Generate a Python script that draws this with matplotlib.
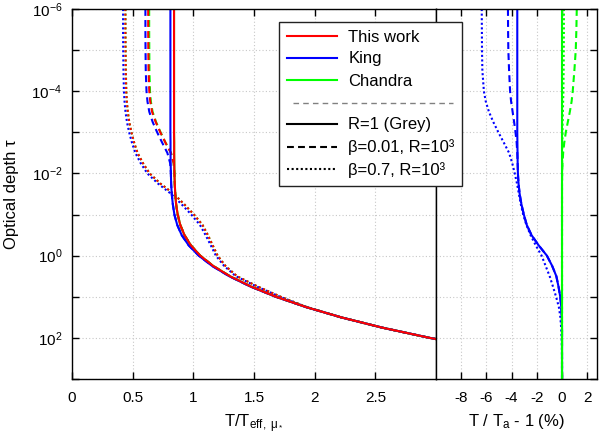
import numpy as np
import matplotlib
matplotlib.use("Agg")
import matplotlib.pyplot as plt
from matplotlib.lines import Line2D

plt.rcParams.update({
    "font.family": "Liberation Sans",
    "mathtext.fontset": "custom",
    "mathtext.rm": "Liberation Sans",
    "mathtext.it": "Liberation Sans:italic",
    "mathtext.bf": "Liberation Sans:bold",
    "mathtext.sf": "Liberation Sans",
    "axes.unicode_minus": False,
})

# optical depth grid (log10 tau)
log_tau = [-6, -5.5, -5, -4.5, -4, -3.75, -3.5, -3.25, -3, -2.75, -2.5, -2.25,
           -2, -1.75, -1.5, -1.25, -1, -0.75, -0.5, -0.25, 0, 0.25, 0.5, 0.75,
           1, 1.25, 1.5, 1.75, 2, 2.25, 2.5, 3]

# T / T_eff,mu*  -- R=1 (grey)
work_grey = [0.841, 0.841, 0.841, 0.841, 0.841, 0.841, 0.841, 0.841, 0.841, 0.842, 0.842, 0.843,
             0.844, 0.847, 0.851, 0.858, 0.871, 0.892, 0.927, 0.980, 1.057, 1.164, 1.302, 1.474,
             1.682, 1.929, 2.218, 2.556, 2.948, 3.401, 3.927, 5.23]
king_grey = [0.811, 0.811, 0.811, 0.811, 0.811, 0.811, 0.811, 0.811, 0.811, 0.812, 0.812, 0.813,
             0.815, 0.817, 0.822, 0.831, 0.844, 0.867, 0.904, 0.962, 1.045, 1.155, 1.296, 1.470,
             1.680, 1.928, 2.218, 2.556, 2.948, 3.401, 3.927, 5.23]
chan_grey = [0.841, 0.841, 0.841, 0.841, 0.841, 0.841, 0.841, 0.841, 0.841, 0.842, 0.842, 0.843,
             0.844, 0.847, 0.851, 0.858, 0.871, 0.892, 0.927, 0.980, 1.057, 1.164, 1.302, 1.474,
             1.682, 1.929, 2.218, 2.556, 2.948, 3.401, 3.927, 5.23]

# beta=0.01, R=1e3
work_b001 = [0.628, 0.628, 0.629, 0.631, 0.637, 0.645, 0.660, 0.690, 0.728, 0.770, 0.815, 0.838,
             0.844, 0.847, 0.851, 0.858, 0.871, 0.892, 0.927, 0.980, 1.057, 1.164, 1.302, 1.474,
             1.682, 1.929, 2.218, 2.556, 2.948, 3.401, 3.927, 5.23]
king_b001 = [0.605, 0.605, 0.606, 0.608, 0.614, 0.622, 0.637, 0.665, 0.702, 0.743, 0.786, 0.809,
             0.815, 0.817, 0.822, 0.831, 0.844, 0.867, 0.904, 0.962, 1.045, 1.155, 1.296, 1.470,
             1.680, 1.928, 2.218, 2.556, 2.948, 3.401, 3.927, 5.23]
chan_b001 = [0.636, 0.636, 0.637, 0.638, 0.643, 0.650, 0.664, 0.693, 0.730, 0.771, 0.816, 0.838,
             0.844, 0.847, 0.851, 0.858, 0.871, 0.892, 0.927, 0.980, 1.057, 1.164, 1.302, 1.474,
             1.682, 1.929, 2.218, 2.556, 2.948, 3.401, 3.927, 5.23]

# beta=0.7, R=1e3
work_b07 = [0.440, 0.440, 0.441, 0.443, 0.447, 0.452, 0.460, 0.472, 0.490, 0.512, 0.540, 0.585,
            0.640, 0.730, 0.840, 0.925, 1.005, 1.075, 1.120, 1.160, 1.200, 1.265, 1.360, 1.530,
            1.720, 1.935, 2.218, 2.556, 2.948, 3.401, 3.927, 5.23]
king_b07 = [0.421, 0.421, 0.422, 0.424, 0.428, 0.433, 0.441, 0.453, 0.471, 0.494, 0.522, 0.566,
            0.621, 0.710, 0.818, 0.903, 0.983, 1.054, 1.101, 1.144, 1.186, 1.254, 1.350, 1.522,
            1.715, 1.931, 2.216, 2.556, 2.948, 3.401, 3.927, 5.23]
chan_b07 = [0.441, 0.441, 0.442, 0.444, 0.448, 0.452, 0.460, 0.472, 0.490, 0.512, 0.540, 0.585,
            0.640, 0.730, 0.840, 0.925, 1.005, 1.075, 1.120, 1.160, 1.200, 1.265, 1.360, 1.530,
            1.720, 1.935, 2.218, 2.556, 2.948, 3.401, 3.927, 5.23]

# T / T_a - 1 (%)
king_grey_dev = [-3.55, -3.55, -3.55, -3.55, -3.55, -3.55, -3.55, -3.55, -3.55, -3.54, -3.53, -3.52,
                 -3.50, -3.45, -3.36, -3.22, -3.03, -2.80, -2.42, -1.85, -1.20, -0.78, -0.45, -0.28,
                 -0.14, -0.06, -0.02, 0.0, 0.0, 0.0, 0.0, 0.0]
king_b001_dev = [-4.29, -4.28, -4.26, -4.20, -4.12, -4.04, -3.92, -3.80, -3.69, -3.60, -3.55, -3.52,
                 -3.50, -3.45, -3.36, -3.22, -3.03, -2.80, -2.42, -1.85, -1.20, -0.78, -0.45, -0.28,
                 -0.14, -0.06, -0.02, 0.0, 0.0, 0.0, 0.0, 0.0]
king_b07_dev = [-6.37, -6.36, -6.35, -6.32, -6.20, -6.05, -5.80, -5.45, -5.05, -4.62, -4.20, -3.95,
                -3.75, -3.57, -3.42, -3.27, -3.08, -2.83, -2.50, -2.08, -1.62, -1.30, -0.98, -0.72,
                -0.47, -0.25, -0.13, -0.07, -0.03, -0.01, 0.0, 0.0]
chan_grey_dev = [0.0, 0.0, 0.0, 0.0, 0.0, 0.0, 0.0, 0.0, 0.0, 0.0, 0.0, 0.0,
                 0.0, 0.0, 0.0, 0.0, 0.0, 0.0, 0.0, 0.0, 0.0, 0.0, 0.0, 0.0,
                 0.0, 0.0, 0.0, 0.0, 0.0, 0.0, 0.0, 0.0]
chan_b001_dev = [1.17, 1.14, 1.09, 0.98, 0.85, 0.76, 0.62, 0.46, 0.30, 0.18, 0.09, 0.04,
                 0.01, 0.0, 0.0, 0.0, 0.0, 0.0, 0.0, 0.0, 0.0, 0.0, 0.0, 0.0,
                 0.0, 0.0, 0.0, 0.0, 0.0, 0.0, 0.0, 0.0]
chan_b07_dev = [0.15, 0.15, 0.14, 0.13, 0.11, 0.09, 0.07, 0.05, 0.04, 0.03, 0.02, 0.01,
                0.005, 0.0, 0.0, 0.0, 0.0, 0.0, 0.0, 0.0, 0.0, 0.0, 0.0, 0.0,
                0.0, 0.0, 0.0, 0.0, 0.0, 0.0, 0.0, 0.0]

y_decades = [-6, -5, -4, -3, -2, -1, 0, 1, 2, 3]
left_ticks = [0, 0.5, 1, 1.5, 2, 2.5]
left_ticklabels = ["0", "0.5", "1", "1.5", "2", "2.5"]
right_ticks = [-8, -6, -4, -2, 0, 2]

tau = 10.0 ** np.array(log_tau)

RED, BLUE, GREEN = "#ff0000", "#0000ff", "#00ff00"
SOLID = "-"
DASHED = (0, (3.3, 2.0))
DOTTED = (0, (1.0, 1.2))
LW = 1.5

fig = plt.figure(figsize=(5.99, 4.43), dpi=100)
ax1 = fig.add_axes([72 / 599, 64 / 443, 364 / 599, 370 / 443])
ax2 = fig.add_axes([436 / 599, 64 / 443, 161.3 / 599, 370 / 443], sharey=ax1)

# left panel: temperature profiles
for ls, g, b, r in [(DOTTED, chan_b07, king_b07, work_b07),
                    (DASHED, chan_b001, king_b001, work_b001),
                    (SOLID, chan_grey, king_grey, work_grey)]:
    ax1.plot(g, tau, color=GREEN, ls=ls, lw=LW)
    ax1.plot(b, tau, color=BLUE, ls=ls, lw=LW)
    ax1.plot(r, tau, color=RED, ls=ls, lw=LW)

# right panel: relative deviation
for ls, b in [(DOTTED, king_b07_dev), (DASHED, king_b001_dev), (SOLID, king_grey_dev)]:
    ax2.plot(b, tau, color=BLUE, ls=ls, lw=LW)
for ls, g in [(DOTTED, chan_b07_dev), (DASHED, chan_b001_dev), (SOLID, chan_grey_dev)]:
    ax2.plot(g, tau, color=GREEN, ls=ls, lw=LW)

ax1.set_yscale("log")
ax1.set_ylim(1e3, 1e-6)
ax1.set_yticks([10.0 ** k for k in y_decades])
ax1.set_yticklabels([r"$\mathrm{10^{%d}}$" % k if k % 2 == 0 and k < 3 else "" for k in y_decades])
ax1.minorticks_off()
ax1.set_xlim(0, 3)
ax1.set_xticks(left_ticks)
ax1.set_xticklabels(left_ticklabels)

ax2.set_xlim(-10, 2.8)
ax2.set_xticks(right_ticks)
ax2.set_xticklabels([str(t) for t in right_ticks])
ax2.minorticks_off()

grid_kw = dict(color="#c8c8c8", ls=(0, (1, 2)), lw=0.8)
for ax in (ax1, ax2):
    ax.grid(True, **grid_kw)
    ax.set_axisbelow(True)
    for sp in ax.spines.values():
        sp.set_linewidth(1.0)
        sp.set_zorder(5)

ax1.tick_params(axis="both", which="both", direction="in", top=True, right=False,
                length=5, width=1, labelsize=11, pad=7)
ax1.tick_params(axis="x", pad=9)
ax2.tick_params(axis="both", which="both", direction="in", top=True, right=True, left=False,
                labelleft=False, length=5, width=1, labelsize=11, pad=9)

ax1.set_ylabel("Optical depth τ", fontsize=12, labelpad=9)
ax1.set_xlabel(r"T/T$_{\mathrm{eff,\ μ_*}}$", fontsize=12, labelpad=5)
ax2.set_xlabel(r"T / T$_{\mathrm{a}}$ - 1 (%)", fontsize=12, labelpad=5)

handles = [
    Line2D([], [], color=RED, lw=LW),
    Line2D([], [], color=BLUE, lw=LW),
    Line2D([], [], color=GREEN, lw=LW),
    Line2D([], [], color="none"),
    Line2D([], [], color="black", lw=LW, ls=SOLID),
    Line2D([], [], color="black", lw=LW, ls=DASHED),
    Line2D([], [], color="black", lw=LW, ls=DOTTED),
]
labels = ["This work", "King", "Chandra", " ", "R=1 (Grey)",
          "β=0.01, R=10³", "β=0.7, R=10³"]
leg = fig.legend(handles, labels, loc="upper left",
                 bbox_to_anchor=(279 / 599, 1 - 22 / 443), bbox_transform=fig.transFigure,
                 fontsize=12, frameon=True, fancybox=False, framealpha=1,
                 edgecolor="#222222", handlelength=3.0, handletextpad=0.7,
                 labelspacing=0.42, borderpad=0.45, borderaxespad=0)
leg.get_frame().set_linewidth(1.0)

# dashed separator between model names and line styles
fig.canvas.draw()
texts = leg.get_texts()
t2 = texts[2].get_window_extent()
t4 = texts[4].get_window_extent()
frame = leg.get_frame().get_window_extent()
y_sep = 0.5 * (0.5 * (t2.y0 + t2.y1) + 0.5 * (t4.y0 + t4.y1))
inv = fig.transFigure.inverted()
(x0, y0), (x1, _) = inv.transform([(frame.x0 + 14, y_sep), (frame.x1 - 9, y_sep)])
fig.add_artist(Line2D([x0, x1], [y0, y0], transform=fig.transFigure, color="#808080",
                      lw=1.0, ls=(0, (4, 3)), zorder=10))

fig.savefig("out.png", dpi=100)
